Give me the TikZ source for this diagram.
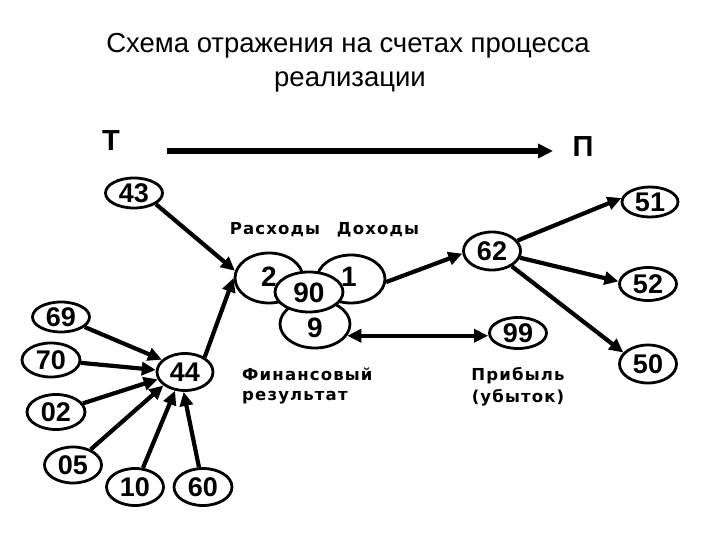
\documentclass[tikz,border=0pt]{standalone}
\usepackage{fontspec}
\setmainfont{Liberation Sans}
\newfontfamily\labfont[LetterSpace=7]{DejaVu Sans Bold}
\usetikzlibrary{shapes.geometric,arrows.meta}
\begin{document}
\begin{tikzpicture}[x=1pt,y=-1pt,
  ov/.style={ellipse,draw,line width=2.8pt,inner sep=0pt,fill=white,
    font=\fontsize{27}{27}\selectfont\bfseries},
  num/.style={inner sep=0pt,font=\fontsize{28}{28}\selectfont\bfseries},
  arr/.style={line width=4.2pt,-{Triangle[length=14pt,width=13pt]}},
  darr/.style={line width=4.2pt,{Triangle[length=14pt,width=13pt]}-{Triangle[length=14pt,width=13pt]}},
  lab/.style={inner sep=0pt,font=\fontsize{16.5}{16.5}\labfont},
  ttl/.style={inner sep=0pt,font=\fontsize{27.5}{27.5}\selectfont},
  big/.style={inner sep=0pt,font=\fontsize{29}{29}\selectfont\bfseries}]
\fill[white] (0,0) rectangle (720,540);
\useasboundingbox (0,0) rectangle (720,540);
% title
\node[ttl,anchor=base] (t1) at (348,53) {Схема отражения на счетах процесса};
\node[ttl,anchor=base] (t2) at (350,87) {реализации};
% T -> P
\node[big] (T) at (111,141) {Т};
\node[big] (P) at (583,147) {П};
\coordinate (ta) at (167,151);
\coordinate (tb) at (553,151);
\draw[line width=5.5pt,-{Triangle[length=15pt,width=14pt]}] (ta) -- (tb);
% central cluster
\node[ov,minimum width=68pt,minimum height=50pt] (n2) at (269,278) {};
\node[ov,minimum width=68pt,minimum height=48pt] (n1) at (351,279) {};
\node[ov,minimum width=70pt,minimum height=48pt] (n9) at (315,324) {};
\node[ov,minimum width=68pt,minimum height=40pt] (n90) at (309,292) {};
\node[num] (l2) at (269,277) {2};
\node[num] (l1) at (349,277) {1};
\node[num] (l90) at (309,293) {90};
\node[num] (l9) at (315,328) {9};
% other nodes
\node[ov,minimum width=57pt,minimum height=30pt] (n43) at (134,193) {43};
\node[ov,minimum width=56pt,minimum height=30pt] (n51) at (650,202) {51};
\node[ov,minimum width=57pt,minimum height=38pt] (n62) at (492,251) {62};
\node[ov,minimum width=57pt,minimum height=33pt] (n52) at (648,284) {52};
\node[ov,minimum width=57pt,minimum height=31pt] (n99) at (518,333) {99};
\node[ov,minimum width=57pt,minimum height=38pt] (n50) at (648,364) {50};
\node[ov,minimum width=56pt,minimum height=37pt] (n44) at (185,372) {44};
\node[ov,minimum width=57pt,minimum height=30pt] (n69) at (61,317) {69};
\node[ov,minimum width=58pt,minimum height=34pt] (n70) at (51,360) {70};
\node[ov,minimum width=58pt,minimum height=35pt] (n02) at (56,412) {02};
\node[ov,minimum width=57pt,minimum height=36pt] (n05) at (73,465) {05};
\node[ov,minimum width=57pt,minimum height=37pt] (n10) at (135,487) {10};
\node[ov,minimum width=58pt,minimum height=37pt] (n60) at (203,487) {60};
% labels
\node[lab,anchor=base] (rash) at (275,235) {Расходы};
\node[lab,anchor=base] (doh) at (378,235) {Доходы};
\node[lab,anchor=base west] (fin1) at (242,380) {Финансовый};
\node[lab,anchor=base west] (fin2) at (242,400) {результат};
\node[lab,anchor=base] (pr1) at (518,380) {Прибыль};
\node[lab,anchor=base] (pr2) at (518,402) {(убыток)};
% arrows
\draw[arr] (n43.-27) -- (n2.168);
\draw[arr] (n44.37) -- (n2.west);
\draw[arr] (n69) -- (n44.152);
\draw[arr] (n70) -- (n44.176);
\draw[arr] (n02) -- (n44.195);
\draw[arr] (n05) -- (n44.212);
\draw[arr] (n10) -- (n44.242);
\draw[arr] (n60) -- (n44.266);
\draw[arr] (n1.-5) -- (n62.185);
\draw[arr] (n62) -- (n51.172);
\draw[arr] (n62) -- (n52.175);
\draw[arr] (n62) -- (n50.155);
\draw[darr] (n9.-20) -- (n9.-20 -| n99.west);
\end{tikzpicture}
\end{document}
